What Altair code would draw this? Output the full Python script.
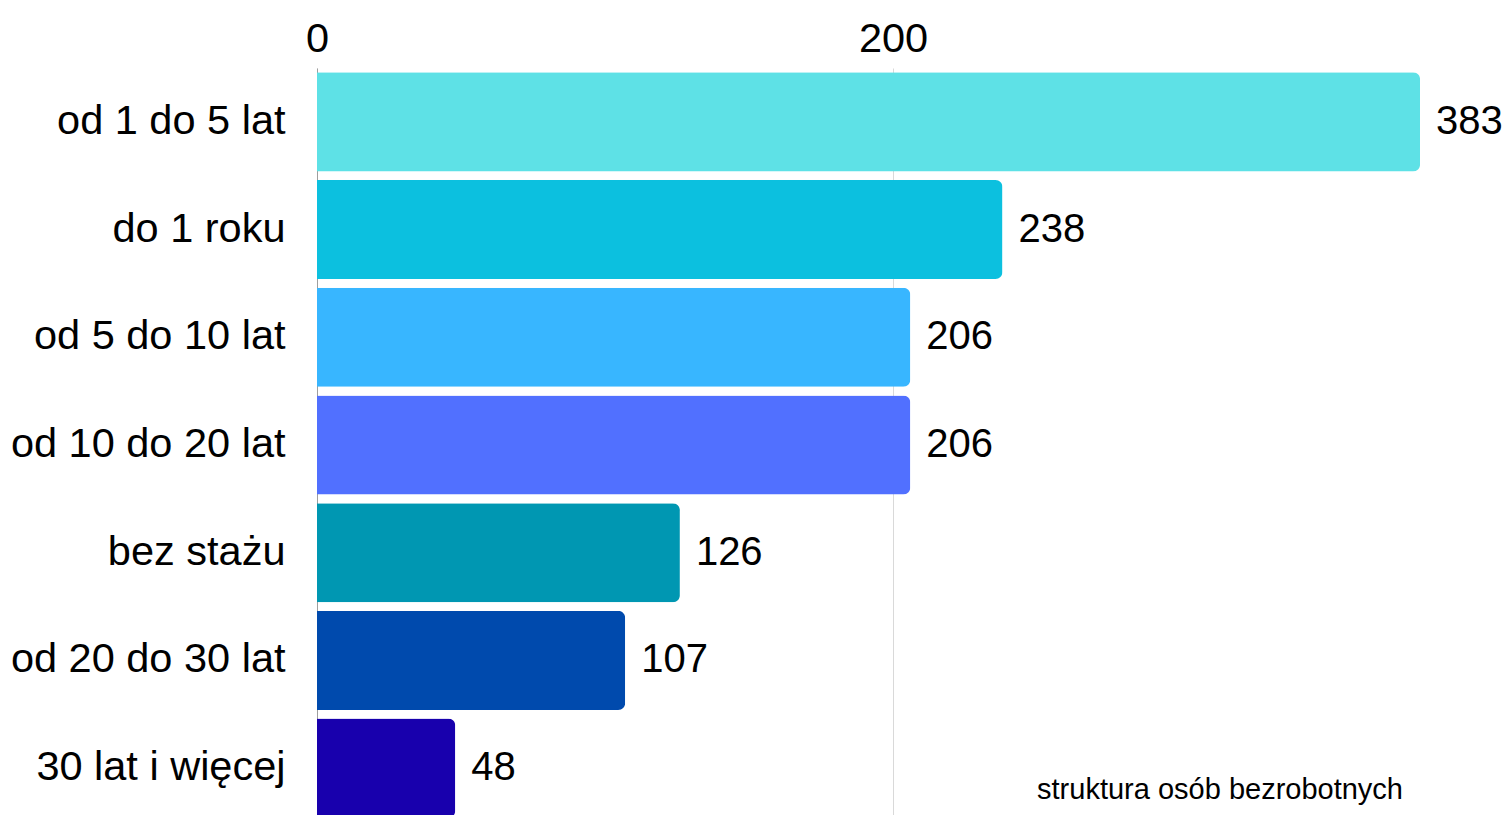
import altair as alt
import pandas as pd

categories = ["od 1 do 5 lat", "do 1 roku", "od 5 do 10 lat", "od 10 do 20 lat",
              "bez stażu", "od 20 do 30 lat", "30 lat i więcej"]
values = [383, 238, 206, 206, 126, 107, 48]
colors = ["#5EE1E6", "#0CC0DF", "#38B6FF", "#5170FF", "#0097B2", "#004AAD", "#1800AD"]
x_ticks = [0, 200]
caption = "struktura osób bezrobotnych"

df = pd.DataFrame({"kategoria": categories, "wartosc": values})

FONT = "Liberation Sans"
FS = 41.5
W = 1187

x_enc = alt.X("wartosc:Q",
              scale=alt.Scale(domain=[0, W / 2.88], nice=False, zero=True),
              axis=alt.Axis(orient="top", values=x_ticks, title=None, domain=False,
                            ticks=False, labelFontSize=FS, labelFont=FONT,
                            labelColor="#000000", labelPadding=8, grid=True,
                            gridColor="#d9d9d9", gridWidth=1, labelFlush=False))
y_enc = alt.Y("kategoria:N", sort=categories,
              scale=alt.Scale(paddingInner=0.08, paddingOuter=0.04),
              axis=alt.Axis(title=None, ticks=False, domain=True, domainColor="#9e9e9e",
                            domainWidth=1, labelFontSize=FS, labelFont=FONT,
                            labelColor="#000000", labelPadding=32, labelLimit=400))

base = alt.Chart(df)

bars = base.mark_bar(cornerRadiusEnd=7).encode(
    x=x_enc,
    y=y_enc,
    color=alt.Color("kategoria:N", sort=categories,
                    scale=alt.Scale(domain=categories, range=colors), legend=None),
)

labels = base.mark_text(align="left", baseline="middle", dx=16, fontSize=40,
                        font=FONT, color="#000000").encode(
    x=alt.X("wartosc:Q"),
    y=alt.Y("kategoria:N", sort=categories),
    text=alt.Text("wartosc:Q"),
)

cap = alt.Chart(pd.DataFrame({"t": [caption]})).mark_text(
    align="right", baseline="middle", fontSize=29, font=FONT, color="#000000"
).encode(text="t:N", x=alt.value(1086), y=alt.value(722))

chart = (bars + labels + cap).properties(
    width=W, height=754,
    autosize=alt.AutoSizeParams(type="none"),
    padding={"left": 309, "top": 60, "right": 0, "bottom": 0},
    background="#ffffff"
).configure_view(stroke=None)

chart.save("out.html", embed_options={"renderer": "svg", "actions": False})
